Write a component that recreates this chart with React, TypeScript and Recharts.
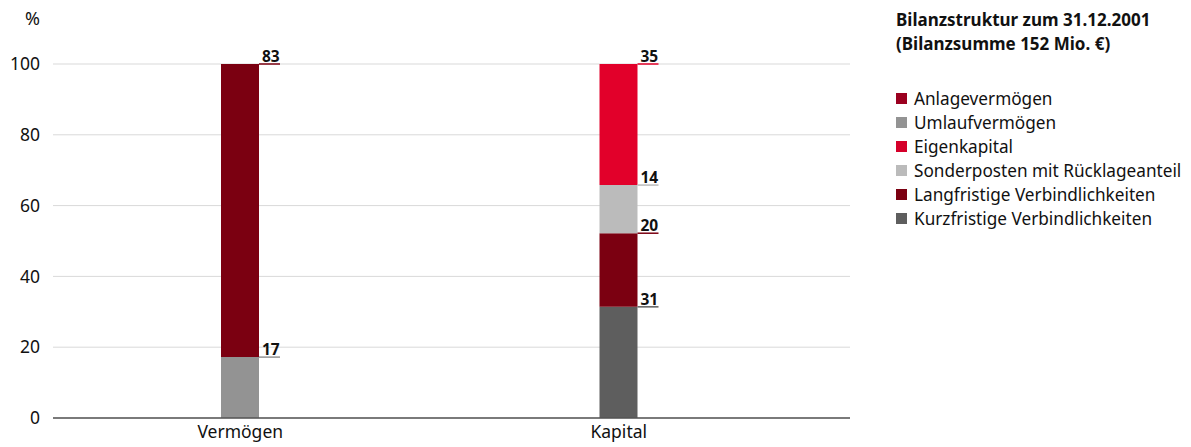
import React from 'react';
import { BarChart, Bar, XAxis, YAxis, CartesianGrid, LabelList } from 'recharts';

const categories = ['Vermögen', 'Kapital'];
// segment heights (%)
const umlaufvermoegen = [17.2, null];
const anlagevermoegen = [82.8, null];
const kurzfristige = [null, 31.4];
const langfristige = [null, 20.8];
const sonderposten = [null, 13.6];
const eigenkapital = [null, 34.2];
// printed labels
const umlaufLabels = ['17', ''];
const anlageLabels = ['83', ''];
const kurzLabels = ['', '31'];
const langLabels = ['', '20'];
const sonderLabels = ['', '14'];
const eigenLabels = ['', '35'];
const yTicks = [0, 20, 40, 60, 80, 100];

const title1 = 'Bilanzstruktur zum 31.12.2001';
const title2 = '(Bilanzsumme 152 Mio. €)';

const series = [
  { key: 'umlauf', name: 'Umlaufvermögen', values: umlaufvermoegen, labels: umlaufLabels, color: '#939393' },
  { key: 'anlage', name: 'Anlagevermögen', values: anlagevermoegen, labels: anlageLabels, color: '#7b0011' },
  { key: 'kurz', name: 'Kurzfristige Verbindlichkeiten', values: kurzfristige, labels: kurzLabels, color: '#5e5e5e' },
  { key: 'lang', name: 'Langfristige Verbindlichkeiten', values: langfristige, labels: langLabels, color: '#7b0011' },
  { key: 'sonder', name: 'Sonderposten mit Rücklageanteil', values: sonderposten, labels: sonderLabels, color: '#bbbbbb' },
  { key: 'eigen', name: 'Eigenkapital', values: eigenkapital, labels: eigenLabels, color: '#e2002a' },
];

const legendItems = [
  { name: 'Anlagevermögen', color: '#9b0020' },
  { name: 'Umlaufvermögen', color: '#939393' },
  { name: 'Eigenkapital', color: '#d5002a' },
  { name: 'Sonderposten mit Rücklageanteil', color: '#bbbbbb' },
  { name: 'Langfristige Verbindlichkeiten', color: '#7b0011' },
  { name: 'Kurzfristige Verbindlichkeiten', color: '#5e5e5e' },
];

const data = categories.map((c, i) => {
  const row: any = { name: c };
  series.forEach((s) => {
    row[s.key] = s.values[i];
    row[s.key + 'Label'] = s.labels[i];
  });
  return row;
});

const FONT = '"Noto Sans", "Open Sans", sans-serif';

const makeLabel = (color: string) => (props: any) => {
  const { x, y, width, value } = props;
  if (value === null || value === undefined || value === '') return null;
  const x0 = Number(x) + Number(width);
  const y0 = Number(y);
  return (
    <g>
      <line x1={x0} y1={y0} x2={x0 + 21} y2={y0} stroke={color} strokeWidth={1.5} />
      <text x={x0 + 3} y={y0 - 2} fontFamily={FONT} fontWeight={700} fontSize={15.5} fill="#111">
        {value}
      </text>
    </g>
  );
};

export default function App() {
  return (
    <div style={{ position: 'absolute', left: 0, top: 0, width: 1191, height: 447, background: '#fff', fontFamily: FONT }}>
      <BarChart
        width={1191}
        height={447}
        data={data}
        margin={{ top: 64, right: 341, bottom: 0, left: 0 }}
        barSize={38}
      >
        <CartesianGrid vertical={false} stroke="#d9d9d9" strokeWidth={1} />
        <XAxis
          dataKey="name"
          axisLine={{ stroke: '#555', strokeWidth: 1.5 }}
          tickLine={false}
          padding={{ left: -2, right: 42 }}
          tick={{ fill: '#111', fontSize: 17.5, fontFamily: FONT }}
          tickMargin={2}
          height={29}
        />
        <YAxis
          type="number"
          domain={[0, 100]}
          ticks={yTicks}
          width={53}
          axisLine={false}
          tickLine={false}
          tickSize={0}
          tickMargin={13}
          tick={{ fill: '#111', fontSize: 17.5, fontFamily: FONT }}
        />
        {series.map((s) => (
          <Bar key={s.key} dataKey={s.key} name={s.name} stackId="a" fill={s.color} isAnimationActive={false}>
            <LabelList dataKey={s.key + 'Label'} content={makeLabel(s.color)} />
          </Bar>
        ))}
        <text x={40} y={25} textAnchor="end" fontFamily={FONT} fontSize={18} fill="#111">%</text>
      </BarChart>
      <div style={{ position: 'absolute', left: 896, top: 8, color: '#111' }}>
        <div style={{ fontWeight: 700, fontSize: 17, lineHeight: '24px', whiteSpace: 'nowrap' }}>
          <div>{title1}</div>
          <div>{title2}</div>
        </div>
        <div style={{ marginTop: 30 }}>
          {legendItems.map((it) => (
            <div key={it.name} style={{ display: 'flex', alignItems: 'center', height: 24, fontSize: 17.2, whiteSpace: 'nowrap' }}>
              <span style={{ display: 'inline-block', width: 11, height: 11, background: it.color, marginRight: 7, flex: 'none' }} />
              <span>{it.name}</span>
            </div>
          ))}
        </div>
      </div>
    </div>
  );
}
